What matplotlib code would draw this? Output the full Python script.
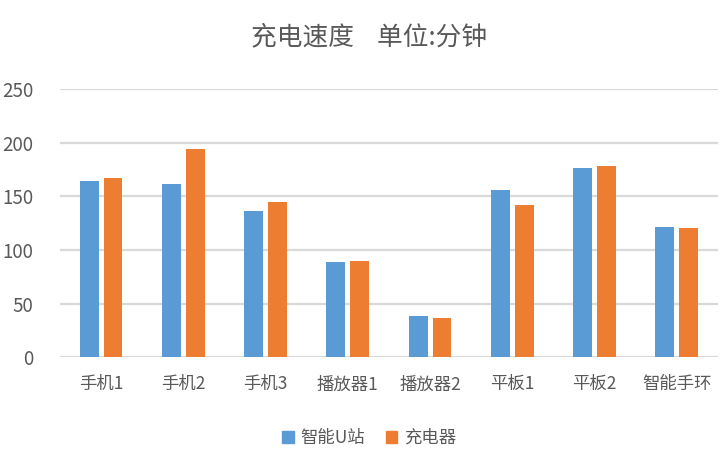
import numpy as np
import matplotlib.pyplot as plt
from matplotlib.patches import Patch

plt.rcParams['font.family'] = ['Noto Sans CJK SC', 'DejaVu Sans']

categories = ["手机1", "手机2", "手机3", "播放器1", "播放器2", "平板1", "平板2", "智能手环"]
u_station = [164, 161, 136, 89, 38, 156, 176, 121]
charger = [167, 194, 145, 90, 37, 142, 178, 120]
series_names = ["智能U站", "充电器"]
yticks = [0, 50, 100, 150, 200, 250]

blue = "#5b9bd5"
orange = "#ed7d31"
grid_c = "#d9d9d9"
text_c = "#595959"

fig = plt.figure(figsize=(7.27, 4.61), dpi=100)
ax = fig.add_axes([0.0825, 0.225, 0.905, 0.582])

x = np.arange(len(categories))
w = 0.23
off = 0.145
ax.bar(x - off, u_station, w, color=blue, zorder=3)
ax.bar(x + off, charger, w, color=orange, zorder=3)

ax.set_xlim(-0.5, len(categories) - 0.5)
ax.set_ylim(0, 250)
ax.set_yticks(yticks)
ax.yaxis.grid(True, color=grid_c, linewidth=1.6, zorder=0)
for s in ax.spines.values():
    s.set_visible(False)
ax.tick_params(axis="both", length=0, colors=text_c)
ax.tick_params(axis="y", labelsize=13.5, pad=19)
ax.set_xticks(x)
ax.set_xticklabels(categories, fontsize=12.5)
ax.tick_params(axis="x", pad=13)

fig.text(0.508, 0.918, "充电速度    单位:分钟", ha="center", va="center",
         fontsize=18.5, color=text_c)

handles = [Patch(color=blue), Patch(color=orange)]
fig.legend(handles, series_names, loc="center", bbox_to_anchor=(0.508, 0.05),
           ncol=2, frameon=False, fontsize=12.5, handlelength=0.65, handleheight=0.65,
           handletextpad=0.4, columnspacing=1.2, labelcolor=text_c)

fig.savefig("out.png", dpi=100)
